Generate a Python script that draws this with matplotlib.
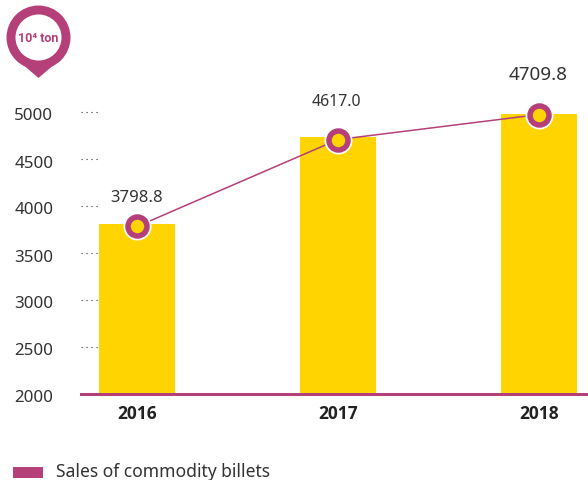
import matplotlib
matplotlib.use("Agg")
import matplotlib.pyplot as plt
from matplotlib.patches import Circle, Polygon, Patch
from matplotlib.transforms import ScaledTranslation

categories = ["2016", "2017", "2018"]
bar_heights = [3805, 4739, 4984]
line_values = [3782, 4707, 4973]
value_labels = ["3798.8", "4617.0", "4709.8"]
y_ticks = [2000, 2500, 3000, 3500, 4000, 4500, 5000]
legend_label = "Sales of commodity billets"
unit_label = "10\u2074 ton"

label_dx_px = [0, -2, -1]
label_dy_px = [29, 39, 41]
label_sizes = [12, 11.4, 13.6]

PURPLE = "#B53F78"
YELLOW = "#FFD400"
TEXT = "#333333"
W, H = 588, 481
px = 72 / 100

plt.rcParams["font.family"] = ["Noto Sans", "DejaVu Sans"]
fig = plt.figure(figsize=(W / 100, H / 100), dpi=100, facecolor="white")

# axes: x from 81 to 588 px, baseline at 395 px, 47 px per 500 units
top_px = 60
base_px = 395
ax = fig.add_axes([81 / W, (H - base_px) / H, (W - 81) / W, (base_px - top_px) / H])
ax.set_xlim(-(137 - 81) / 201, (W - 137) / 201)
ax.set_ylim(2000, 2000 + (base_px - top_px) / 47 * 500)
for s in ax.spines.values():
    s.set_visible(False)
ax.patch.set_alpha(0)

xs = list(range(len(categories)))
ax.bar(xs, bar_heights, width=76 / 201, color=YELLOW, zorder=2)

# dotted tick guides
ax.hlines(y_ticks[1:], -(137 - 81) / 201, -(137 - 101) / 201, colors=TEXT,
          linewidth=0.8, linestyles=(0, (1, 3.5)), zorder=1)
ax.axhline(2000, color=PURPLE, lw=3 * px, zorder=3, clip_on=False)

ax.plot(xs, line_values, color=PURPLE, lw=1.1, zorder=4)
ax.plot(xs, line_values, ls="none", marker="o", ms=28 * px, mfc="white", mec="none", zorder=5)
ax.plot(xs, line_values, ls="none", marker="o", ms=19 * px, mfc=YELLOW, mec=PURPLE,
        mew=5.5 * px, zorder=6)

for x, y, lab, dx, dy, sz in zip(xs, line_values, value_labels, label_dx_px, label_dy_px, label_sizes):
    ax.annotate(lab, (x, y), xytext=(dx * px, dy * px), textcoords="offset points",
                ha="center", va="center", fontsize=sz, color=TEXT, zorder=7)

ax.set_yticks(y_ticks)
ax.set_xticks(xs, categories)
ax.tick_params(axis="both", length=0)
ax.tick_params(axis="y", pad=20, labelsize=12.2, labelcolor=TEXT)
ax.tick_params(axis="x", pad=7.5, labelsize=12.5, labelcolor="#222222")
shift = ScaledTranslation(0, -3.5 / 100, fig.dpi_scale_trans)
for t in ax.get_yticklabels():
    t.set_verticalalignment("center")
    t.set_transform(t.get_transform() + shift)
for t in ax.get_xticklabels():
    t.set_family(["Open Sans", "DejaVu Sans"])
    t.set_fontweight("bold")

# unit pin (decoration, pixel coordinates)
ov = fig.add_axes([0, 0, 1, 1], zorder=10)
ov.set_xlim(0, W)
ov.set_ylim(H, 0)
ov.axis("off")
ov.patch.set_alpha(0)
ov.add_patch(Polygon([[14, 58], [63, 58], [38.5, 79]], closed=True, fc=PURPLE, ec="none"))
ov.add_patch(Circle((38.5, 38.5), 32, fc=PURPLE, ec="none"))
ov.add_patch(Circle((38.5, 38.5), 23, fc="white", ec="none"))
ov.text(38.5, 38, unit_label, ha="center", va="center", color=PURPLE, fontsize=9,
        fontweight="bold", family=["Roboto", "DejaVu Sans"])

# legend
leg = fig.legend(handles=[Patch(fc=PURPLE, ec="none", label=legend_label)],
                 loc="lower left", bbox_to_anchor=(13 / W, 0),
                 frameon=False, fontsize=12.6, labelcolor=TEXT, borderpad=0, borderaxespad=0,
                 handlelength=30 * px / 12.6, handleheight=11 * px / 12.6,
                 handletextpad=13 * px / 12.6)
h = leg.get_patches()[0]
h.set_y(h.get_y() - 2.5 * px)

fig.savefig("out.png", dpi=100, facecolor="white")
